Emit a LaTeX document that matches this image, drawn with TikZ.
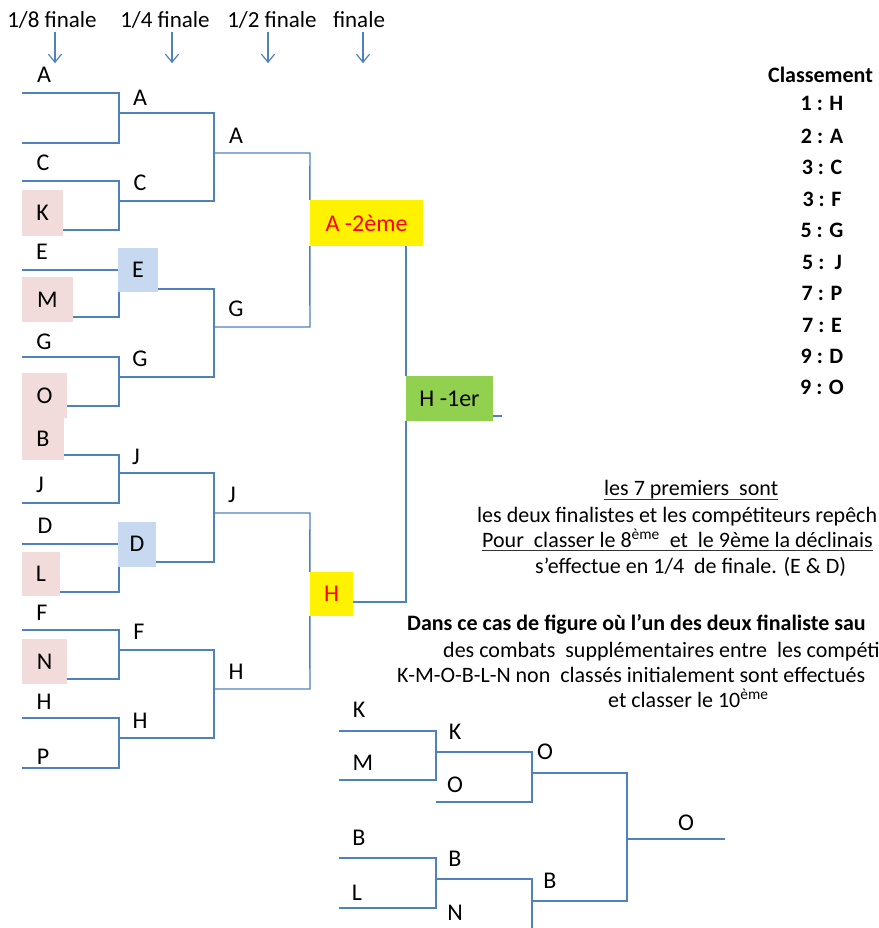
\documentclass[tikz,border=0pt]{standalone}
\usepackage{fontspec}
\setmainfont{Carlito}
\usepackage{xcolor}
\usetikzlibrary{arrows.meta}

\definecolor{bracketblue}{RGB}{79,129,189}
\definecolor{elimpink}{RGB}{242,220,219}
\definecolor{repblue}{RGB}{198,217,241}
\definecolor{winnergreen}{RGB}{146,208,80}

\tikzset{
    bracket/.style = {draw = bracketblue, line width = 1.4pt},
    roundarrow/.style = {draw = bracketblue, line width = 1.2pt, -{Straight Barb[length = 8pt, width = 13pt]}},
    roundname/.style = {font = \fontsize{23}{27}\selectfont, inner sep = 0pt, text depth = 0pt, anchor = base},
    team/.style = {font = \fontsize{24}{28}\selectfont, inner sep = 0pt},
    eliminated/.style = {team, fill = elimpink},
    repeche/.style = {team, fill = repblue},
    finalbox/.style = {team, fill = yellow, text = red},
    champion/.style = {team, fill = winnergreen},
    rank/.style = {font = \fontsize{22}{26}\selectfont\bfseries, inner sep = 0pt},
    note/.style = {font = \fontsize{22}{26}\selectfont, inner sep = 0pt, anchor = base west},
    underl/.style = {line width = 1pt, draw = black!80}
}

\begin{document}
\begin{tikzpicture}[x = 1pt, y = -1pt]
    \useasboundingbox (0,0) rectangle (878,928);
    \clip (0,0) rectangle (878,928);

    % tours
    \node[roundname] (t8) at (52,28) {1/8 finale};
    \node[roundname] (t4) at (165,28) {1/4 finale};
    \node[roundname] (t2) at (272,28) {1/2 finale};
    \node[roundname] (t1) at (359,28) {finale};
    \draw[roundarrow] ([xshift = 3pt, yshift = -4pt]t8.south) -- ++(0,31);
    \draw[roundarrow] ([xshift = 7pt, yshift = -4pt]t4.south) -- ++(0,31);
    \draw[roundarrow] ([xshift = -4pt, yshift = -4pt]t2.south) -- ++(0,31);
    \draw[roundarrow] ([xshift = 4pt, yshift = -4pt]t1.south) -- ++(0,31);

    % 1/8 de finale
    \node[team] (a8) at (44,75) {A};
    \node[team] (c8) at (43,163) {C};
    \node[eliminated, minimum width = 41pt, minimum height = 46pt] (k8) at (42.5,213) {K};
    \node[team] (e8) at (42,252) {E};
    \node[eliminated, minimum width = 51pt, minimum height = 45pt] (m8) at (47.5,299.5) {M};
    \node[team] (g8) at (44,342) {G};
    \node[eliminated, minimum width = 45pt, minimum height = 45pt] (o8) at (44.5,395.5) {O};
    \node[eliminated, minimum width = 42pt, minimum height = 42pt] (b8) at (43,439) {B};
    \node[team] (j8) at (40,485) {J};
    \node[team] (d8) at (45,526) {D};
    \node[eliminated, minimum width = 38pt, minimum height = 44pt] (l8) at (41,574) {L};
    \node[team] (f8) at (42,613) {F};
    \node[eliminated, minimum width = 45pt, minimum height = 45pt] (n8) at (44.5,661.5) {N};
    \node[team] (h8) at (44,702) {H};
    \node[team] (p8) at (43,757) {P};

    % 1/4 de finale
    \node[team] (a4) at (140,98) {A};
    \node[team] (c4) at (140,183) {C};
    \node[repeche, minimum width = 40pt, minimum height = 44pt] (e4) at (138,270) {E};
    \node[team] (g4) at (140,359) {G};
    \node[team] (j4) at (136,457) {J};
    \node[repeche, minimum width = 38pt, minimum height = 45pt] (d4) at (137,544) {D};
    \node[team] (f4) at (139,632) {F};
    \node[team] (h4) at (140,721) {H};

    % 1/2 finale
    \node[team] (a2) at (236,136) {A};
    \node[team] (g2) at (236,309) {G};
    \node[team] (j2) at (232,495) {J};
    \node[team] (h2) at (236,672) {H};

    % finale
    \node[finalbox, minimum width = 113pt, minimum height = 46pt] (second) at (366.5,223) {A -2ème};
    \node[finalbox, minimum width = 43pt, minimum height = 44pt] (hfin) at (331.5,594) {H};
    \node[champion, minimum width = 87pt, minimum height = 45pt] (first) at (449.5,398.5) {H -1er};

    \draw[bracket] (22,93) -- (119,93) -- (119,143) -- (22,143);
    \draw[bracket] (22,181) -- (119,181) -- (119,230) -- (k8.east |- 0,230);
    \draw[bracket] (22,270) -- (e4.west);
    \draw[bracket] (m8.east |- 0,317) -- (119,317) -- (e4.south -| 119,0);
    \draw[bracket] (22,357) -- (119,357) -- (119,406) -- (o8.east |- 0,406);
    \draw[bracket] (b8.east |- 0,455) -- (119,455) -- (119,503) -- (22,503);
    \draw[bracket] (22,544) -- (d4.west);
    \draw[bracket] (l8.east |- 0,592) -- (119,592) -- (d4.south -| 119,0);
    \draw[bracket] (22,630) -- (119,630) -- (119,679) -- (n8.east |- 0,679);
    \draw[bracket] (22,718) -- (119,718) -- (119,768) -- (22,768);

    \draw[bracket] (119,113) -- (214,113) -- (214,201) -- (119,201);
    \draw[bracket] (e4.east |- 0,289) -- (214,289) -- (214,377) -- (119,377);
    \draw[bracket] (119,473) -- (214,473) -- (214,562) -- (d4.east |- 0,562);
    \draw[bracket] (119,650) -- (214,650) -- (214,738) -- (119,738);

    \draw[bracket] (214,153) -- (310,153) -- (second.north west);
    \draw[bracket] (second.south west) -- (310,327) -- (214,327);
    \draw[bracket] (214,513) -- (310,513) -- (hfin.north west);
    \draw[bracket] (hfin.south west) -- (310,689) -- (214,689);

    \draw[bracket] (second.south -| first.west) -- (first.north west);
    \draw[bracket] (first.south west) -- (first.west |- 0,602) -- (hfin.east |- 0,602);
    \draw[bracket] (first.east |- 0,416) -- (502,416);

    % classement
    \node[rank] (classement) at (820.5,75) {Classement};
    \node[rank] (r1) at (822,103) {1 : H};
    \node[rank] (r2) at (822,136) {2 : A};
    \node[rank] (r3) at (822,167) {3 : C};
    \node[rank] (r4) at (822,199) {3 : F};
    \node[rank] (r5) at (822,230) {5 : G};
    \node[rank] (r6) at (822,262) {5 : \,J};
    \node[rank] (r7) at (822,293) {7 : P};
    \node[rank] (r8) at (822,325) {7 : E};
    \node[rank] (r9) at (822,356) {9 : D};
    \node[rank] (r10) at (822,387) {9 : O};

    % remarques
    \node[note] (n1) at (604,495) {les 7 premiers\ \ sont};
    \draw[underl] ([yshift = -4pt]n1.base west) -- ([yshift = -4pt]n1.base east);
    \node[note] (n2) at (477,522) {les deux finalistes et les compétiteurs repêch};
    \node[note] (n3) at (482,547) {Pour\ \ classer le 8\textsuperscript{ème}\ \ et\ \ le 9ème la déclinais};
    \draw[underl] ([yshift = -3pt]n3.base west) -- ([yshift = -3pt]n3.base east);
    \node[note] (n4) at (535,573) {s’effectue en 1/4\ \ de finale. (E \& D)};
    \node[note, font = \fontsize{22}{26}\selectfont\bfseries] (n5) at (407,630) {Dans ce cas de figure où l’un des deux finaliste sau};
    \node[note] (n6) at (443,657) {des combats\ \ supplémentaires entre\ \ les compéti};
    \node[note] (n7) at (397,682) {K-M-O-B-L-N non\ \ classés initialement sont effectués};
    \node[note] (n8) at (608,707) {et classer le 10\textsuperscript{ème}};

    % repechage
    \node[team] (kr1) at (359,710) {K};
    \node[team] (mr1) at (363,763) {M};
    \node[team] (br1) at (359,838) {B};
    \node[team] (lr1) at (357,893) {L};
    \node[team] (kr2) at (455,732) {K};
    \node[team] (or2) at (455,785) {O};
    \node[team] (br2) at (455,859) {B};
    \node[team] (nr2) at (455,913) {N};
    \node[team] (or3) at (545,752) {O};
    \node[team] (br3) at (550,881) {B};
    \node[team] (or4) at (686,823) {O};

    \draw[bracket] (339,731) -- (436,731) -- (436,780) -- (339,780);
    \draw[bracket] (339,858) -- (436,858) -- (436,908) -- (339,908);
    \draw[bracket] (436,752) -- (532,752) -- (532,802) -- (436,802);
    \draw[bracket] (436,879) -- (532,879) -- (532,929) -- (436,929);
    \draw[bracket] (532,773) -- (627,773) -- (627,901) -- (532,901);
    \draw[bracket] (627,839) -- (725,839);
\end{tikzpicture}
\end{document}
